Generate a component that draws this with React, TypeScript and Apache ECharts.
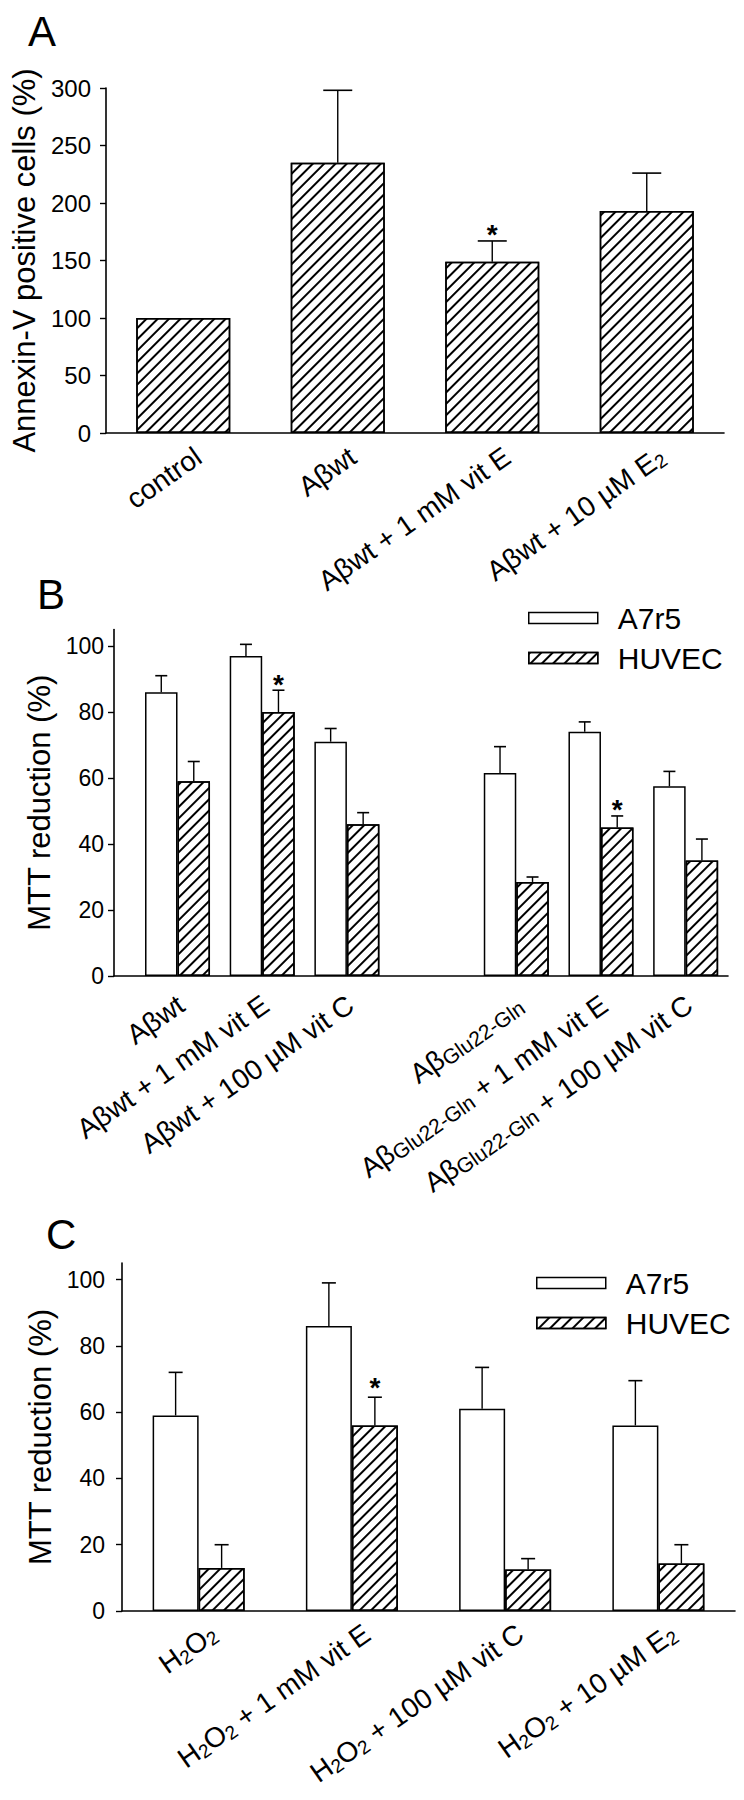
import React, { useEffect, useRef } from 'react';
import * as echarts from 'echarts';

const FONT = "'Liberation Sans', Arial, Helvetica, sans-serif";

// ---------- Panel A ----------
const catsA = ['control', 'Aβwt', 'Aβwt + 1 mM vit E', 'Aβwt + 10 µM E2'];
const valsA = [100, 235, 149, 193];
const errA = [0, 63, 18, 33];
const starA = [0, 0, 1, 0];

// ---------- Panel B ----------
const catsB = [
  'Aβwt',
  'Aβwt + 1 mM vit E',
  'Aβwt + 100 µM vit C',
  'AβGlu22-Gln',
  'AβGlu22-Gln + 1 mM vit E',
  'AβGlu22-Gln + 100 µM vit C',
];
const posB = [0, 1, 2, 4, 5, 6];
const a7r5B = [86, 97, 71, 61.5, 74, 57.5];
const a7r5ErrB = [5, 3.5, 4, 8, 3, 4.5];
const huvecB = [59, 80, 46, 28.5, 45, 35];
const huvecErrB = [6, 6.6, 3.5, 1.5, 3.5, 6.5];
const huvecStarB = [0, 1, 0, 0, 1, 0];

// ---------- Panel C ----------
const catsC = ['H2O2', 'H2O2 + 1 mM vit E', 'H2O2 + 100 µM vit C', 'H2O2 + 10 µM E2'];
const a7r5C = [59, 86, 61, 56];
const a7r5ErrC = [13, 13, 12.5, 13.5];
const huvecC = [13, 56, 12.5, 14.3];
const huvecErrC = [7, 8.5, 3.3, 5.7];
const huvecStarC = [0, 1, 0, 0];

const ticksA = [0, 50, 100, 150, 200, 250, 300];
const ticksMTT = [0, 20, 40, 60, 80, 100];

const HATCH = {
  symbol: 'rect',
  symbolSize: 1,
  dashArrayX: [1, 0],
  dashArrayY: [1.3, 5.7],
  rotation: -Math.PI / 4,
  color: '#000',
};

function endE2(s: string): string {
  if (s.endsWith('E2')) return `{n|${s.slice(0, -1)}}{s|2}`;
  return s ? `{n|${s}}` : '';
}
function fmtA(s: string) {
  return endE2(s);
}
function fmtB(s: string) {
  const p = 'AβGlu22-Gln';
  if (s.startsWith(p)) {
    const rest = s.slice(p.length);
    return `{n|Aβ}{g|Glu22-Gln}` + (rest ? `{n|${rest}}` : '');
  }
  return `{n|${s}}`;
}
function fmtC(s: string) {
  const p = 'H2O2';
  if (s.startsWith(p)) {
    return `{n|H}{s|2}{n|O}{s|2}` + endE2(s.slice(p.length));
  }
  return endE2(s);
}

const rich = {
  n: { fontSize: 28, lineHeight: 30, fontFamily: FONT, color: '#000' },
  s: { fontSize: 19, lineHeight: 18, verticalAlign: 'bottom', fontFamily: FONT, color: '#000' },
  g: { fontSize: 21, lineHeight: 20, verticalAlign: 'bottom', fontFamily: FONT, color: '#000' },
};

function makeErr(offset: number, capW: number, starDy: number) {
  return (params: any, api: any) => {
    const x = api.value(0);
    const y = api.value(1);
    const e = api.value(2);
    const star = api.value(3);
    const base = api.coord([x, y]);
    const top = api.coord([x, y + e]);
    const cx = base[0] + offset;
    const children: any[] = [];
    if (e > 0) {
      children.push({
        type: 'line',
        shape: { x1: cx, y1: base[1], x2: cx, y2: top[1] },
        style: { stroke: '#000', lineWidth: 1.4 },
      });
      children.push({
        type: 'line',
        shape: { x1: cx - capW / 2, y1: top[1], x2: cx + capW / 2, y2: top[1] },
        style: { stroke: '#000', lineWidth: 1.6 },
      });
    }
    if (star) {
      children.push({
        type: 'text',
        x: cx,
        y: top[1] - starDy,
        style: {
          text: '*',
          fontSize: 28,
          fontWeight: 'bold',
          fontFamily: FONT,
          fill: '#000',
          align: 'center',
          verticalAlign: 'middle',
        },
      });
    }
    return { type: 'group', children };
  };
}

const axisLineStyle = { color: '#000', width: 1.6 };

function yAxisCommon(gridIndex: number, name: string, nameGap: number, labelMargin: number, max: number, ticks: number[], fontSize: number) {
  return {
    type: 'value',
    gridIndex,
    min: 0,
    max,
    name,
    nameLocation: 'middle',
    nameGap,
    nameTextStyle: { fontSize: 31, fontFamily: FONT, color: '#000' },
    axisLine: { show: true, onZero: false, lineStyle: axisLineStyle },
    axisTick: { show: true, length: 6, customValues: ticks, lineStyle: { color: '#000', width: 1.4 } },
    axisLabel: { customValues: ticks, margin: labelMargin, fontSize, fontFamily: FONT, color: '#000' },
    splitLine: { show: false },
  };
}

function xLabel(margin: number, shift: number, formatter: any, extra: any = {}) {
  return {
    rotate: 35,
    margin,
    align: 'right',
    verticalAlign: 'top',
    padding: [0, -shift, 0, 0],
    formatter,
    rich,
    ...extra,
  };
}

export default function App() {
  const ref = useRef<HTMLDivElement>(null);
  useEffect(() => {
    if (!ref.current) return;
    const chart = echarts.init(ref.current, null, { renderer: 'svg' });
    const barStyle = { color: '#fff', borderColor: '#000', borderWidth: 1.5 };
    const hatchStyle = { color: '#fff', borderColor: '#000', borderWidth: 1.5, decal: HATCH };
    const legendBase = {
      data: ['A7r5', 'HUVEC'],
      orient: 'vertical',
      icon: 'rect',
      itemWidth: 69,
      itemHeight: 11,
      itemGap: 10,
      selectedMode: false,
      itemStyle: { borderColor: '#000', borderWidth: 1.5 },
      textStyle: { fontSize: 30, fontFamily: FONT, color: '#000', padding: [0, 0, 0, 15] },
    };
    const letter = { fontSize: 42, fontWeight: 'normal', fontFamily: FONT, color: '#000' };
    const option: any = {
      animation: false,
      backgroundColor: '#fff',
      title: [
        { text: 'A', left: 28, top: 10, padding: 0, textStyle: letter },
        { text: 'B', left: 37, top: 573, padding: 0, textStyle: letter },
        { text: 'C', left: 46, top: 1213, padding: 0, textStyle: letter },
      ],
      legend: [
        { ...legendBase, left: 523, top: 598 },
        { ...legendBase, left: 531, top: 1263 },
      ],
      grid: [
        { left: 106, top: 88, width: 618, height: 345, outerBoundsMode: 'none' },
        { left: 114, top: 629.5, width: 614, height: 346.5, outerBoundsMode: 'none' },
        { left: 122, top: 1263, width: 613, height: 348, outerBoundsMode: 'none' },
      ],
      xAxis: [
        {
          type: 'category',
          gridIndex: 0,
          data: catsA,
          boundaryGap: true,
          axisLine: { show: true, onZero: false, lineStyle: axisLineStyle },
          axisTick: { show: false },
          axisLabel: xLabel(13, 8, (v: string) => fmtA(v), { interval: 0 }),
        },
        {
          type: 'value',
          gridIndex: 1,
          min: -0.75,
          max: 6.5,
          axisLine: { show: true, onZero: false, lineStyle: axisLineStyle },
          axisTick: { show: false },
          splitLine: { show: false },
          axisLabel: xLabel(
            10,
            -6,
            (v: number) => fmtB(catsB[posB.indexOf(Math.round(v))] || ''),
            { customValues: posB }
          ),
        },
        {
          type: 'category',
          gridIndex: 2,
          data: catsC,
          boundaryGap: true,
          axisLine: { show: true, onZero: false, lineStyle: axisLineStyle },
          axisTick: { show: false },
          axisLabel: xLabel(12, 8, (v: string) => fmtC(v), { interval: 0 }),
        },
      ],
      yAxis: [
        yAxisCommon(0, 'Annexin-V positive cells (%)', 64, 15, 300, ticksA, 24),
        yAxisCommon(1, 'MTT reduction (%)', 48, 10, 105, ticksMTT, 23),
        yAxisCommon(2, 'MTT reduction (%)', 48, 17, 105, ticksMTT, 23),
      ],
      series: [
        // Panel A
        {
          type: 'bar',
          name: 'Annexin-V',
          xAxisIndex: 0,
          yAxisIndex: 0,
          data: valsA,
          barWidth: 94,
          itemStyle: hatchStyle,
        },
        {
          type: 'custom',
          xAxisIndex: 0,
          yAxisIndex: 0,
          z: 5,
          renderItem: makeErr(0, 29, 6),
          data: valsA.map((v, i) => [i, v, errA[i], starA[i]]),
        },
        // Panel B
        {
          type: 'bar',
          name: 'A7r5',
          xAxisIndex: 1,
          yAxisIndex: 1,
          data: posB.map((p, i) => [p, a7r5B[i]]),
          barWidth: 32.5,
          barGap: '0%',
          itemStyle: barStyle,
        },
        {
          type: 'bar',
          name: 'HUVEC',
          xAxisIndex: 1,
          yAxisIndex: 1,
          data: posB.map((p, i) => [p, huvecB[i]]),
          barWidth: 32.5,
          barGap: '0%',
          itemStyle: hatchStyle,
        },
        {
          type: 'custom',
          xAxisIndex: 1,
          yAxisIndex: 1,
          z: 5,
          renderItem: makeErr(-16.25, 12, 6),
          data: posB.map((p, i) => [p, a7r5B[i], a7r5ErrB[i], 0]),
        },
        {
          type: 'custom',
          xAxisIndex: 1,
          yAxisIndex: 1,
          z: 5,
          renderItem: makeErr(16.25, 12, 6),
          data: posB.map((p, i) => [p, huvecB[i], huvecErrB[i], huvecStarB[i]]),
        },
        // Panel C
        {
          type: 'bar',
          name: 'A7r5',
          xAxisIndex: 2,
          yAxisIndex: 2,
          data: a7r5C,
          barWidth: 46,
          barGap: '0%',
          itemStyle: barStyle,
        },
        {
          type: 'bar',
          name: 'HUVEC',
          xAxisIndex: 2,
          yAxisIndex: 2,
          data: huvecC,
          barWidth: 46,
          barGap: '0%',
          itemStyle: hatchStyle,
        },
        {
          type: 'custom',
          xAxisIndex: 2,
          yAxisIndex: 2,
          z: 5,
          renderItem: makeErr(-23, 14, 10),
          data: a7r5C.map((v, i) => [i, v, a7r5ErrC[i], 0]),
        },
        {
          type: 'custom',
          xAxisIndex: 2,
          yAxisIndex: 2,
          z: 5,
          renderItem: makeErr(23, 14, 10),
          data: huvecC.map((v, i) => [i, v, huvecErrC[i], huvecStarC[i]]),
        },
      ],
    };
    chart.setOption(option);
    return () => chart.dispose();
  }, []);
  return (
    <div
      ref={ref}
      style={{ position: 'absolute', left: 0, top: 0, width: 744, height: 1800, background: '#fff' }}
    />
  );
}
